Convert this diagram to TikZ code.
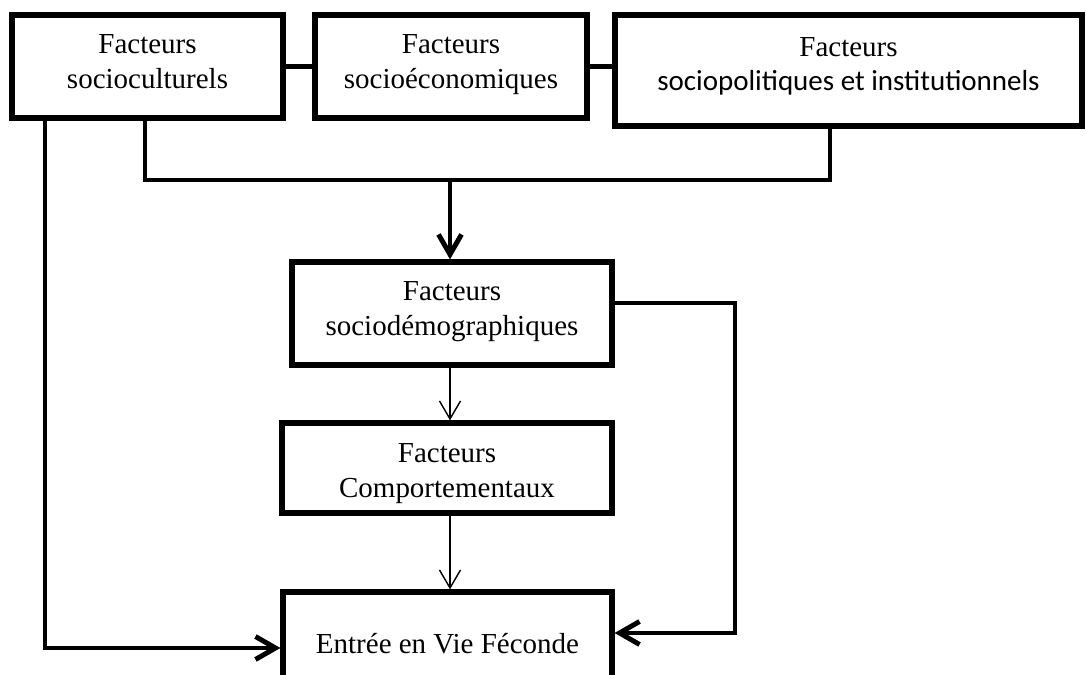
\documentclass[tikz,border=0pt]{standalone}
\usepackage{fontspec}
\setmainfont{Liberation Serif}
\newfontfamily\calibri{Carlito}
\usetikzlibrary{arrows.meta}

\tikzset{
  facteur/.style={draw, line width=3pt, align=center, inner sep=0pt,
    font=\fontsize{16.5}{19.8}\selectfont, execute at end node=\strut},
  lien/.style={line width=2.4pt},
  fort/.style={line width=2.8pt, -{Straight Barb[length=4mm,width=4.6mm]}},
  fin/.style={line width=0.8pt, -{Straight Barb[length=3.6mm,width=4.2mm]}},
}

\begin{document}
\begin{tikzpicture}[x=0.02cm, y=-0.02cm]
    \useasboundingbox (0,0) rectangle (1086,675);
    \clip (0,0) rectangle (1086,675);

    \node[facteur, minimum width=5.42cm, minimum height=2.06cm] (cult) at (147.5,66.5) {Facteurs\\socioculturels};
    \node[facteur, minimum width=5.44cm, minimum height=2.06cm] (eco) at (451,66.5) {Facteurs\\socioéconomiques};
    \node[facteur, minimum width=9.34cm, minimum height=2.22cm] (pol) at (848.5,70.5) {Facteurs\\{\calibri sociopolitiques et institutionnels}\rule[-0.26cm]{0pt}{1pt}};
    \node[facteur, minimum width=6.4cm, minimum height=2.06cm] (demo) at (452,313.5) {Facteurs\\sociodémographiques};
    \node[facteur, minimum width=6.6cm, minimum height=1.8cm] (comp) at (447,468) {\rule{0pt}{0.7cm}Facteurs\\Comportementaux};
    \node[facteur, minimum width=6.58cm, minimum height=2.12cm] (vie) at (447.5,645) {\rule{0pt}{0.56cm}Entrée en Vie Féconde};

    \coordinate (busG) at (145,180);
    \coordinate (busD) at (830,180);
    \coordinate (bas) at (45,648);
    \coordinate (haut) at (735,303);
    \coordinate (coin) at (735,633);

    \draw[lien] (cult.east) -- (eco.west);
    \draw[lien] (eco.east) -- (eco.east -| pol.west);
    \draw[lien] (cult.south -| busG) -- (busG) -- (busD) -- (pol.south -| busD);
    \draw[fort] (busG -| 450,0) -- (demo.north -| 450,0);
    \draw[fort] (cult.south -| bas) -- (bas) -- (bas -| vie.west);
    \draw[fort] (demo.east |- haut) -- (haut) -- (coin) -- (coin -| vie.east);
    \draw[fin] (demo.south -| 450,0) -- (comp.north -| 450,0);
    \draw[fin] (comp.south -| 450,0) -- (vie.north -| 450,0);
\end{tikzpicture}
\end{document}
